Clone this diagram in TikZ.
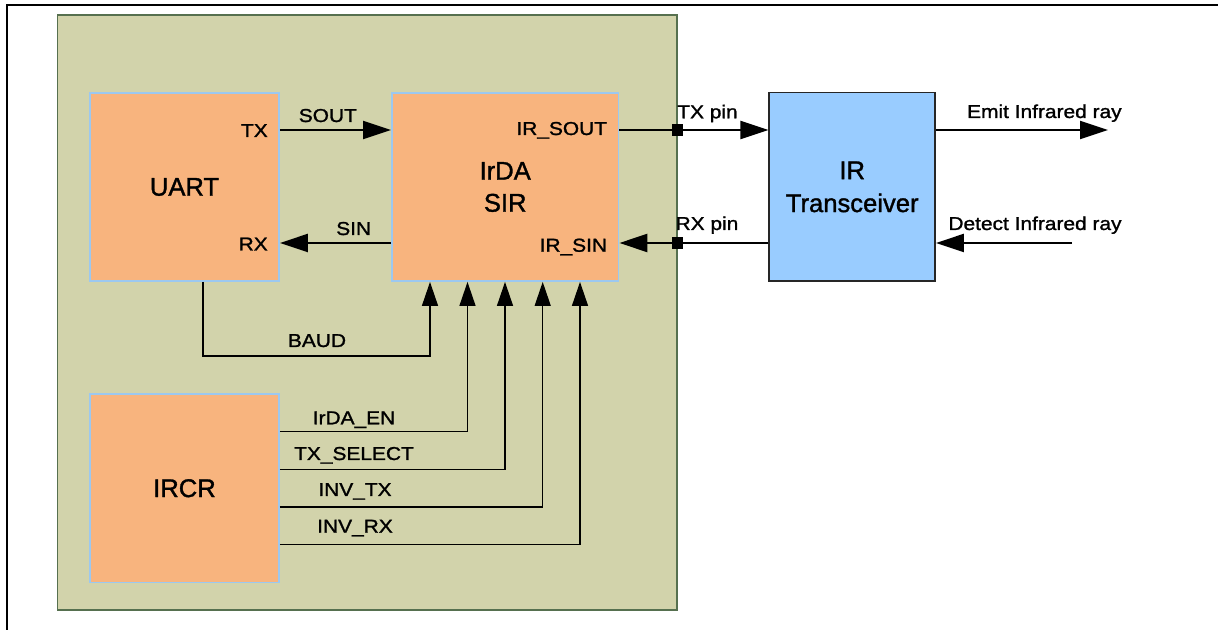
\documentclass[tikz,border=0pt]{standalone}
\usepackage{fontspec}
\setmainfont{Liberation Sans}[FakeStretch=1.12,FakeBold=1.3]
\newfontfamily\bigfont{Liberation Sans}[FakeBold=1.3]
\usetikzlibrary{arrows.meta,calc}
\definecolor{panelfill}{HTML}{D2D3AB}
\definecolor{panelline}{HTML}{56704F}
\definecolor{blockfill}{HTML}{F8B47E}
\definecolor{blockline}{HTML}{9CC8F0}
\definecolor{irfill}{HTML}{99CCFF}
\begin{document}
\begin{tikzpicture}[x=0.75pt,y=-0.75pt,
  panelbox/.style={draw=panelline, fill=panelfill, line width=0.8pt, inner sep=0},
  block/.style={draw=blockline, fill=blockfill, line width=1.4pt, inner sep=0,
    align=center, font=\bigfont\fontsize{19.2}{24}\selectfont},
  irblock/.style={draw=black!85, fill=irfill, line width=1.1pt, inner sep=0,
    align=center, font=\bigfont\fontsize{19.2}{24.7}\selectfont},
  lbl/.style={font=\fontsize{14}{16}\selectfont, inner sep=0, anchor=base},
  rlbl/.style={lbl, anchor=base east},
  sig/.style={line width=1.7pt, -{Triangle[length=21pt,width=13.5pt]}},
  ctl/.style={line width=1pt, -{Triangle[length=18pt,width=12pt]}},
  pinsq/.style={fill=black, minimum size=8.5pt, inner sep=0},
]
\useasboundingbox (0,0) rectangle (1218,630);
\fill[white] (0,0) rectangle (1218,630);
% outer frame (left and top edges)
\draw[line width=1.5pt] (7,631) -- (7,5) -- (1219,5);

% panel and blocks
\node[panelbox, minimum width=464.6pt, minimum height=446.25pt] (panel) at (367.25,312.5) {};
\node[block, minimum width=141.75pt, minimum height=141pt] (uart) at (184.5,187) {UART};
\node[block, minimum width=169.9pt, minimum height=141pt] (sir) at (505.2,187) {IrDA\\SIR};
\node[block, minimum width=141.75pt, minimum height=141.4pt] (ircr) at (184.5,488.25) {IRCR};
\node[irblock, minimum width=124.5pt, minimum height=141.2pt] (irx) at (852.2,186.9) {IR\\Transceiver};

% helper coordinates
\coordinate (ytx) at (0,130);
\coordinate (yrx) at (0,243);
\coordinate (emitend) at (1108,130);
\coordinate (detstart) at (1072,243);
\coordinate (bx) at (203,0);
\coordinate (baud) at (430,356);
\coordinate (c1) at (467.5,0);
\coordinate (c2) at (505,0);
\coordinate (c3) at (542.7,0);
\coordinate (c4) at (580,0);
\coordinate (r1) at (0,431.7);
\coordinate (r2) at (0,469.3);
\coordinate (r3) at (0,507);
\coordinate (r4) at (0,544.3);

% UART <-> SIR
\draw[sig] (uart.east |- ytx) -- (sir.west |- ytx);
\draw[sig] (sir.west |- yrx) -- (uart.east |- yrx);
% SIR <-> IR transceiver
\draw[sig] (sir.east |- ytx) -- (irx.west |- ytx);
\draw[sig] (irx.west |- yrx) -- (sir.east |- yrx);
\node[pinsq] (ptx) at (panel.east |- ytx) {};
\node[pinsq] (prx) at (panel.east |- yrx) {};
% infrared
\draw[sig] (irx.east |- ytx) -- (emitend);
\draw[sig] (detstart) -- (irx.east |- yrx);

% BAUD
\draw[ctl] (uart.south -| bx) |- (baud) -- (sir.south -| baud);
% IRCR controls
\draw[ctl] (ircr.east |- r1) -| (sir.south -| c1);
\draw[ctl] (ircr.east |- r2) -| (sir.south -| c2);
\draw[ctl] (ircr.east |- r3) -| (sir.south -| c3);
\draw[ctl] (ircr.east |- r4) -| (sir.south -| c4);

% labels
\node[rlbl] (ltx) at (268,137) {TX};
\node[rlbl] (lrx) at (268,250.5) {RX};
\node[lbl] (lsout) at (327.8,122) {SOUT};
\node[lbl] (lsin) at (353.7,235) {SIN};
\node[rlbl] (lirsout) at (607.3,135) {IR\_SOUT};
\node[rlbl] (lirsin) at (607.3,251.7) {IR\_SIN};
\node[lbl] (ltxpin) at (707.5,118.3) {TX pin};
\node[lbl] (lrxpin) at (707,230) {RX pin};
\node[lbl] (lemit) at (1044.4,118) {Emit Infrared ray};
\node[lbl] (ldetect) at (1035,230) {Detect Infrared ray};
\node[lbl] (lbaud) at (317,347) {BAUD};
\node[lbl] (len) at (354,424.3) {IrDA\_EN};
\node[lbl] (lsel) at (354,460) {TX\_SELECT};
\node[lbl] (linvtx) at (355,496) {INV\_TX};
\node[lbl] (linvrx) at (355,532.7) {INV\_RX};
\end{tikzpicture}
\end{document}
